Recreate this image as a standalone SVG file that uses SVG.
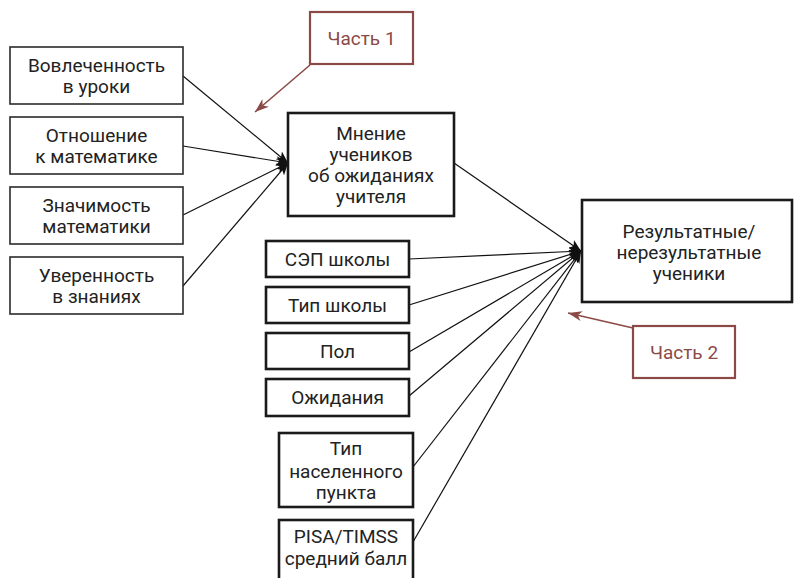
<svg xmlns="http://www.w3.org/2000/svg" width="796" height="578" viewBox="0 0 796 578">
  <style>
    .bg { fill: #ffffff; }
    .box-thin { fill: #ffffff; stroke: #2b2b2b; stroke-width: 1.6; }
    .box-bold { fill: #ffffff; stroke: #1a1a1a; stroke-width: 2.6; }
    .box-part { fill: #ffffff; stroke: #8c4a46; stroke-width: 2.2; }
    .lbl { font-family: Roboto, "Liberation Sans", sans-serif; font-size: 19px; fill: #222222; text-anchor: middle; }
    .lbl-part { font-family: Roboto, "Liberation Sans", sans-serif; font-size: 19px; fill: #8c4a46; text-anchor: middle; }
    .edge { fill: none; stroke: #111111; stroke-width: 1.2; }
    .edge-part { fill: none; stroke: #8c4a46; stroke-width: 1.6; }
  </style>
  <defs>
    <marker id="arrow" viewBox="0 0 12 10" refX="12" refY="5" markerWidth="12" markerHeight="10" markerUnits="userSpaceOnUse" orient="auto">
      <path d="M0,0 L12,5 L0,10 L3,5 Z" fill="#111111"/>
    </marker>
    <marker id="arrow-part" viewBox="0 0 14 10" refX="14" refY="5" markerWidth="14" markerHeight="10" markerUnits="userSpaceOnUse" orient="auto">
      <path d="M0,0 L14,5 L0,10 L4,5 Z" fill="#8c4a46"/>
    </marker>
  </defs>

  <rect class="bg" x="0" y="0" width="796" height="578"/>

  <!-- connectors -->
  <g id="connectors">
    <line class="edge" x1="183" y1="76" x2="288" y2="163" marker-end="url(#arrow)"/>
    <line class="edge" x1="183" y1="146" x2="288" y2="163" marker-end="url(#arrow)"/>
    <line class="edge" x1="183" y1="215" x2="288" y2="163" marker-end="url(#arrow)"/>
    <line class="edge" x1="183" y1="286" x2="288" y2="163" marker-end="url(#arrow)"/>

    <line class="edge" x1="454" y1="163" x2="581" y2="251" marker-end="url(#arrow)"/>
    <line class="edge" x1="409" y1="259" x2="581" y2="251" marker-end="url(#arrow)"/>
    <line class="edge" x1="409" y1="305" x2="581" y2="251" marker-end="url(#arrow)"/>
    <line class="edge" x1="409" y1="352" x2="581" y2="251" marker-end="url(#arrow)"/>
    <line class="edge" x1="409" y1="396" x2="581" y2="251" marker-end="url(#arrow)"/>
    <line class="edge" x1="413" y1="467" x2="581" y2="251" marker-end="url(#arrow)"/>
    <line class="edge" x1="413" y1="542" x2="581" y2="251" marker-end="url(#arrow)"/>

    <line class="edge-part" x1="310" y1="65" x2="255" y2="112" marker-end="url(#arrow-part)"/>
    <line class="edge-part" x1="633" y1="328" x2="568" y2="313" marker-end="url(#arrow-part)"/>
  </g>

  <!-- left factor boxes -->
  <g id="n-engagement">
    <rect class="box-thin" x="10" y="47" width="173" height="57"/>
    <text class="lbl" x="96.5" y="72">Вовлеченность</text>
    <text class="lbl" x="96.5" y="93">в уроки</text>
  </g>
  <g id="n-attitude">
    <rect class="box-thin" x="10" y="117" width="173" height="57"/>
    <text class="lbl" x="96.5" y="142">Отношение</text>
    <text class="lbl" x="96.5" y="163">к математике</text>
  </g>
  <g id="n-importance">
    <rect class="box-thin" x="10" y="187" width="173" height="57"/>
    <text class="lbl" x="96.5" y="212">Значимость</text>
    <text class="lbl" x="96.5" y="233">математики</text>
  </g>
  <g id="n-confidence">
    <rect class="box-thin" x="10" y="257" width="173" height="57"/>
    <text class="lbl" x="96.5" y="282">Уверенность</text>
    <text class="lbl" x="96.5" y="303">в знаниях</text>
  </g>

  <!-- central box -->
  <g id="n-opinion">
    <rect class="box-bold" x="288" y="113" width="166" height="103"/>
    <text class="lbl" x="371" y="140">Мнение</text>
    <text class="lbl" x="371" y="161">учеников</text>
    <text class="lbl" x="371" y="182">об ожиданиях</text>
    <text class="lbl" x="371" y="203">учителя</text>
  </g>

  <!-- outcome box -->
  <g id="n-result">
    <rect class="box-bold" x="582" y="200" width="210" height="102"/>
    <text class="lbl" x="689" y="238">Результатные/</text>
    <text class="lbl" x="689" y="259">нерезультатные</text>
    <text class="lbl" x="689" y="280">ученики</text>
  </g>

  <!-- lower factor boxes -->
  <g id="n-ses">
    <rect class="box-bold" x="266" y="241" width="143" height="36"/>
    <text class="lbl" x="337.5" y="266">СЭП школы</text>
  </g>
  <g id="n-school-type">
    <rect class="box-bold" x="266" y="287" width="143" height="36"/>
    <text class="lbl" x="337.5" y="312">Тип школы</text>
  </g>
  <g id="n-gender">
    <rect class="box-bold" x="266" y="333" width="143" height="36"/>
    <text class="lbl" x="337.5" y="358">Пол</text>
  </g>
  <g id="n-expectations">
    <rect class="box-bold" x="266" y="379" width="143" height="37"/>
    <text class="lbl" x="337.5" y="404">Ожидания</text>
  </g>
  <g id="n-settlement">
    <rect class="box-bold" x="279" y="433" width="134" height="74"/>
    <text class="lbl" x="346" y="455">Тип</text>
    <text class="lbl" x="346" y="478">населенного</text>
    <text class="lbl" x="346" y="499">пункта</text>
  </g>
  <g id="n-pisa">
    <rect class="box-bold" x="279" y="520" width="134" height="70"/>
    <text class="lbl" x="346" y="543">PISA/TIMSS</text>
    <text class="lbl" x="346" y="565">средний балл</text>
  </g>

  <!-- part labels -->
  <g id="n-part1">
    <rect class="box-part" x="310" y="12" width="103" height="52"/>
    <text class="lbl-part" x="361.5" y="45">Часть 1</text>
  </g>
  <g id="n-part2">
    <rect class="box-part" x="633" y="326" width="102" height="52"/>
    <text class="lbl-part" x="684" y="359">Часть 2</text>
  </g>
</svg>
